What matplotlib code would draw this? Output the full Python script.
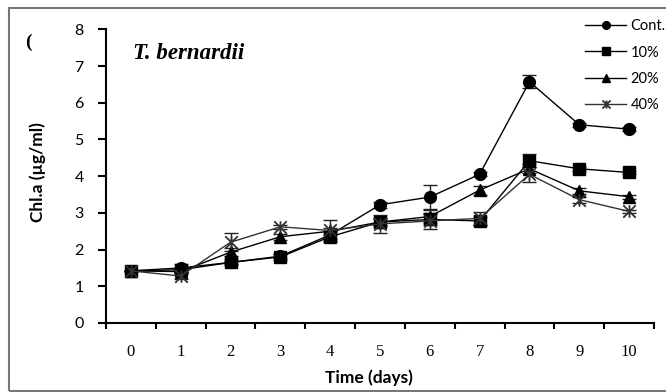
import matplotlib
matplotlib.use("Agg")
import matplotlib.pyplot as plt
from matplotlib.patches import Rectangle
from matplotlib.path import Path
import numpy as np

days = ["0", "1", "2", "3", "4", "5", "6", "7", "8", "9", "10"]
series_names = ["Cont.", "10%", "20%", "40%"]
cont = [1.42, 1.50, 1.65, 1.82, 2.40, 3.22, 3.43, 4.05, 6.57, 5.40, 5.28]
p10 = [1.42, 1.45, 1.65, 1.80, 2.35, 2.75, 2.82, 2.78, 4.42, 4.20, 4.10]
p20 = [1.42, 1.40, 1.93, 2.35, 2.50, 2.75, 2.90, 3.62, 4.20, 3.60, 3.44]
p40 = [1.42, 1.28, 2.20, 2.62, 2.52, 2.70, 2.78, 2.85, 4.05, 3.36, 3.04]
err_cont = [0.0, 0.12, 0.05, 0.05, 0.10, 0.08, 0.32, 0.05, 0.18, 0.05, 0.05]
err_p10 = [0.0, 0.05, 0.08, 0.08, 0.12, 0.08, 0.15, 0.10, 0.18, 0.05, 0.05]
err_p20 = [0.0, 0.05, 0.10, 0.08, 0.10, 0.10, 0.18, 0.12, 0.12, 0.08, 0.05]
err_p40 = [0.0, 0.08, 0.25, 0.05, 0.28, 0.25, 0.22, 0.18, 0.20, 0.08, 0.05]

# Excel-style star marker: an x with a short vertical bar
star = Path([(-1, -1), (1, 1), (-1, 1), (1, -1), (0, -1), (0, 1)],
            [Path.MOVETO, Path.LINETO, Path.MOVETO, Path.LINETO, Path.MOVETO, Path.LINETO])

W, H = 666, 392
fig = plt.figure(figsize=(W / 100, H / 100), dpi=100)
ax = fig.add_axes([106 / W, 1 - 323 / H, 548 / W, (323 - 29.3) / H])

x = np.arange(len(days))
styles = [
    (cont, err_cont, "o", "black", 8.5),
    (p10, err_p10, "s", "black", 8.5),
    (p20, err_p20, "^", "black", 8),
    (p40, err_p40, star, "#333333", 9),
]
handles = []
for (vals, err, mk, col, ms), name in zip(styles, series_names):
    ax.errorbar(x, vals, yerr=err, fmt="none", ecolor="#222222", elinewidth=1,
                capsize=5, capthick=1, zorder=2)
    is_star = not isinstance(mk, str)
    h, = ax.plot(x, vals, color=col, lw=1, marker=mk, ms=ms,
                 mew=1.3 if is_star else 1, mfc="black",
                 mec="#333333" if is_star else "black",
                 label=name, zorder=3)
    handles.append(h)

ax.set_xlim(-0.5, 10.5)
ax.set_ylim(0, 8)
ax.set_yticks(range(0, 9))
ax.set_xticks(np.arange(-0.5, 11, 1.0))
ax.set_xticklabels([])
ax.set_xticks(x, minor=True)
ax.set_xticklabels(days, minor=True, fontfamily="Liberation Serif", fontsize=12)
ax.tick_params(axis="x", which="major", direction="out", length=4, width=1.5)
ax.tick_params(axis="x", which="minor", length=0, pad=15)
ax.tick_params(axis="y", direction="out", length=6, width=1.5, pad=10, labelsize=11.5)
for lab in ax.get_yticklabels():
    lab.set_fontfamily("Lato")
for s in ["top", "right"]:
    ax.spines[s].set_visible(False)
for s in ["left", "bottom"]:
    ax.spines[s].set_linewidth(1.5)

ax.text(0.049, 0.919, "T. bernardii", transform=ax.transAxes, fontfamily="Liberation Serif",
        fontstyle="italic", fontweight="bold", fontsize=16.5, va="center", ha="left")
fig.text(25 / W, 1 - 42 / H, "(", fontfamily="Liberation Serif", fontweight="bold",
         fontsize=14, va="center", ha="left")
fig.text(369 / W, 1 - 378 / H, "Time (days)", fontfamily="Lato", fontweight="bold",
         fontsize=12.5, ha="center", va="center")
fig.text(38 / W, 1 - 172 / H, "Chl.a (µg/ml)", fontfamily="Lato", fontweight="bold",
         fontsize=12.5, ha="center", va="center", rotation=90)

leg = fig.legend(handles=handles, loc="upper left", bbox_to_anchor=(575 / W, 1 - 9 / H),
                 frameon=False, handlelength=2.8, labelspacing=0.85,
                 markerscale=0.65, handletextpad=0.3, borderpad=0.2,
                 prop={"family": "Lato", "size": 10.5})

fig.patches.append(Rectangle((9 / W, 1 - 391 / H), 1.0, (391 - 8) / H, transform=fig.transFigure,
                             fill=False, edgecolor="#777777", lw=1.5))

fig.savefig("out.png", dpi=100)
